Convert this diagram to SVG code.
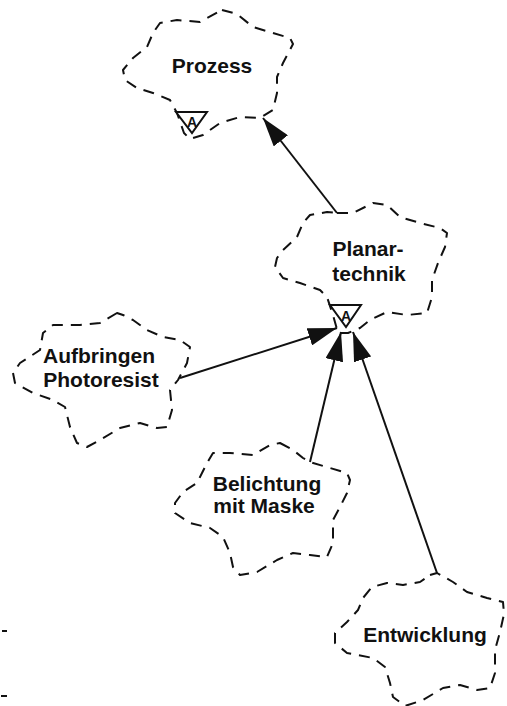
<svg xmlns="http://www.w3.org/2000/svg" width="507" height="706" viewBox="0 0 507 706">
<defs>
<style>
.cloud{fill:none;stroke:#111;stroke-width:2;stroke-dasharray:11 8;stroke-linejoin:round;stroke-linecap:butt}
.lbl{font-family:"Liberation Sans",Arial,Helvetica,sans-serif;font-weight:bold;font-size:21px;fill:#111;text-anchor:middle}
.tri{fill:#fff;stroke:#111;stroke-width:2;stroke-linejoin:miter}
.tria{font-family:"Liberation Sans",Arial,sans-serif;font-weight:bold;font-size:14px;fill:#111;text-anchor:middle}
.conn{stroke:#111;stroke-width:2;fill:none}
</style>
<marker id="ah" markerUnits="userSpaceOnUse" markerWidth="30" markerHeight="18" refX="29" refY="9" orient="auto">
<path d="M0 0 L29 9 L0 18 Z" fill="#111"/>
</marker>
</defs>
<g id="connectors">
<line class="conn" x1="337" y1="213" x2="263" y2="118" marker-end="url(#ah)"/>
<line class="conn" x1="180" y1="378" x2="337" y2="328" marker-end="url(#ah)"/>
<line class="conn" x1="310" y1="462" x2="341" y2="332" marker-end="url(#ah)"/>
<line class="conn" x1="437" y1="573" x2="353" y2="332" marker-end="url(#ah)"/>
</g>
<g id="prozess">
<path class="cloud" d="M222 10 L237 14 L253 27 L273 33 L290 38 L293 44 L283 63 L277 77 L277 93 L273 110 L260 118 L240 117 L220 123 L203 135 L190 139 L184 133 L177 113 L170 100 L153 93 L137 88 L125 80 L123 70 L133 58 L147 47 L153 33 L160 23 L177 20 L200 22 Z"/>
<text class="lbl" x="212" y="73" font-size="20">Prozess</text>
<polygon class="tri" points="176,112 207,112 192,133"/>
<text class="tria" x="192" y="127">A</text>
</g>
<g id="planartechnik">
<path class="cloud" d="M337 213 L353 213 L373 203 L387 205 L400 217 L420 223 L440 228 L447 233 L445 247 L438 263 L432 280 L432 297 L427 313 L407 315 L387 312 L370 320 L360 328 L348 333 L338 333 L333 315 L327 297 L320 290 L300 283 L283 278 L275 267 L277 258 L283 250 L297 237 L303 223 L310 215 L327 212 Z"/>
<text class="lbl" x="368" y="256">Planar-</text>
<text class="lbl" x="369" y="281">technik</text>
<polygon class="tri" points="330,305 361,305 346,327"/>
<text class="tria" x="346" y="321">A</text>
</g>
<g id="aufbringen">
<path class="cloud" d="M117 313 L100 323 L80 325 L53 325 L43 333 L40 350 L20 363 L13 373 L15 383 L33 393 L53 400 L65 407 L70 427 L77 443 L87 447 L100 440 L120 428 L140 423 L157 428 L167 427 L172 410 L170 390 L178 380 L187 363 L190 347 L180 340 L163 337 L147 330 L133 320 L123 315 Z"/>
<text class="lbl" x="99" y="363">Aufbringen</text>
<text class="lbl" x="101" y="387">Photoresist</text>
</g>
<g id="belichtung">
<path class="cloud" d="M280 443 L293 450 L303 458 L310 462 L330 468 L347 473 L350 480 L347 493 L340 507 L333 520 L333 543 L327 557 L310 555 L293 553 L277 560 L257 572 L240 575 L233 567 L230 553 L223 537 L210 528 L190 523 L175 513 L175 503 L183 492 L197 483 L202 473 L207 463 L213 453 L230 453 L253 455 L270 445 Z"/>
<text class="lbl" x="267" y="491" font-size="20">Belichtung</text>
<text class="lbl" x="264" y="513" font-size="20">mit Maske</text>
</g>
<g id="entwicklung">
<path class="cloud" d="M430 575 L437 573 L453 582 L467 592 L487 598 L503 602 L504 614 L500 632 L495 650 L495 673 L490 688 L477 690 L460 685 L443 688 L423 700 L405 706 L393 697 L390 683 L385 667 L373 658 L347 653 L335 643 L335 633 L347 622 L358 610 L363 598 L372 587 L387 583 L403 585 L420 582 Z"/>
<text class="lbl" x="425" y="642">Entwicklung</text>
</g>
<g id="marks">
<line class="conn" x1="2" y1="631" x2="7" y2="631"/>
<line class="conn" x1="1" y1="696" x2="7" y2="696"/>
</g>
</svg>
